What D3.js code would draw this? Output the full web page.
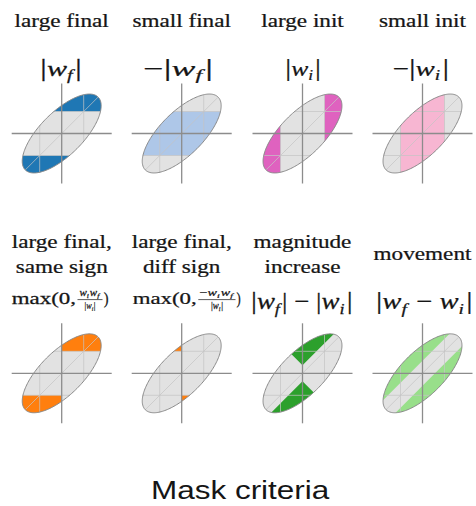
<!DOCTYPE html>
<html>
<head>
<meta charset="utf-8">
<script src="https://cdn.jsdelivr.net/npm/d3@7"></script>
<style>
  body { margin: 0; background: #fff; }
  text { fill: #151515; }
  .serif text { stroke: #151515; stroke-width: 0.25; }
</style>
</head>
<body>
<svg id="chart" width="476" height="506"></svg>
<script>
// ---- panel definitions -------------------------------------------------
const titles = [
  ["large final"], ["small final"], ["large init"], ["small init"],
  ["large final,", "same sign"], ["large final,", "diff sign"],
  ["magnitude", "increase"], ["movement"]
];
const criteria = ["largeFinal", "smallFinal", "largeInit", "smallInit",
                  "sameSign", "diffSign", "magIncrease", "movement"];
const fills = ["#1f77b4", "#aec7e8", "#df62bf", "#f7b6d2",
               "#ff7f0e", "#ff7f0e", "#2ca02c", "#98df8a"];
// score threshold used by each criterion (in weight units)
const thresholds = [0.44, 0.44, 0.44, 0.44, 0.44, 0.44, 0.16, 0.25];
// joint distribution of (w_i, w_f): semi-axes and tilt of the ellipse
const semiAxes = [1.03, 0.43];
const tiltDeg = 45;
// reference grid drawn inside every ellipse
const gridLevel = 0.44;

// formula segments: [text, style]  r = roman, i = italic, s = italic subscript
const formulas = [
  [["|", "r"], ["w", "i"], ["f", "s"], ["|", "r"]],
  [["−", "r"], ["|", "r"], ["w", "i"], ["f", "s"], ["|", "r"]],
  [["|", "r"], ["w", "i"], ["i", "s"], ["|", "r"]],
  [["−", "r"], ["|", "r"], ["w", "i"], ["i", "s"], ["|", "r"]],
  null, null,
  [["|", "r"], ["w", "i"], ["f", "s"], ["| − |", "r"], ["w", "i"], ["i", "s"], ["|", "r"]],
  [["|", "r"], ["w", "i"], ["f", "s"], [" − ", "r"], ["w", "i"], ["i", "s"], ["|", "r"]]
];
const fracNumerators = {
  sameSign: [["w", "i"], ["i", "s"], ["w", "i"], ["f", "s"]],
  diffSign: [["−", "r"], ["w", "i"], ["i", "s"], ["w", "i"], ["f", "s"]]
};
const fracDenominator = [["|", "r"], ["w", "i"], ["i", "s"], ["|", "r"]];

const superTitle = "Mask criteria";

// ---- layout -------------------------------------------------------------
const svg = d3.select("#chart");
const colX = [61.7, 181.7, 302.5, 422.5];
const rowY = [133.5, 373.3];
const half = 50;
const R = 2;
const serif = "'Liberation Serif', 'DejaVu Serif', serif";
const textLayer = svg.append("g").attr("class", "serif");

function regions(kind, t) {
  switch (kind) {
    case "largeFinal": return [[[-R, t], [R, t], [R, R], [-R, R]], [[-R, -t], [R, -t], [R, -R], [-R, -R]]];
    case "smallFinal": return [[[-R, -t], [R, -t], [R, t], [-R, t]]];
    case "largeInit":  return [[[t, -R], [R, -R], [R, R], [t, R]], [[-t, -R], [-R, -R], [-R, R], [-t, R]]];
    case "smallInit":  return [[[-t, -R], [t, -R], [t, R], [-t, R]]];
    case "sameSign":   return [[[0, t], [R, t], [R, R], [0, R]], [[0, -t], [-R, -t], [-R, -R], [0, -R]]];
    case "diffSign":   return [[[0, t], [-R, t], [-R, R], [0, R]], [[0, -t], [R, -t], [R, -R], [0, -R]]];
    case "magIncrease":return [[[-R, R + t], [0, t], [R, R + t]], [[-R, -R - t], [0, -t], [R, -R - t]]];
    case "movement":   return [[[-R, -R + t], [R, R + t], [-R, R + t]], [[-R, -R - t], [R, R - t], [R, -R - t]]];
  }
  return [];
}

// writes formula segments as tspans into a text element
function writeSegments(text, segs, size, barScale) {
  let shifted = false;
  segs.forEach(([str, style]) => {
    const ts = text.append("tspan").text(str);
    if (style === "i" || style === "s") ts.attr("font-style", "italic");
    if (style === "s") {
      ts.attr("font-size", size * 0.68);
      if (!shifted) { ts.attr("dy", size * 0.2); shifted = true; }
    } else {
      if (shifted) { ts.attr("dy", -size * 0.2).attr("dx", size * 0.08); shifted = false; }
      if (barScale && str === "|") ts.attr("font-size", size * barScale);
    }
  });
}

// places a piece of text so that it spans [left, right] on the given baseline
function fitText(parent, left, right, baseline, size, family, build) {
  const g = parent.append("g");
  const t = g.append("text").attr("x", 0).attr("y", 0)
    .attr("font-family", family).attr("font-size", size);
  build(t);
  const bb = t.node().getBBox();
  const s = (right - left) / bb.width;
  g.attr("transform", `translate(${left - bb.x * s},${baseline}) scale(${s},1)`);
  return g;
}

// stretched centred text
function wideText(parent, cx, baseline, size, family, str, stretch) {
  parent.append("g").attr("transform", `translate(${cx},${baseline}) scale(${stretch},1)`)
    .append("text").attr("text-anchor", "middle").attr("font-family", family)
    .attr("font-size", size).text(str);
}

const phi = tiltDeg * Math.PI / 180;
const outline = d3.range(0, 360, 2).map(deg => {
  const th = deg * Math.PI / 180;
  const u = semiAxes[0] * Math.cos(th), v = semiAxes[1] * Math.sin(th);
  return [u * Math.cos(phi) - v * Math.sin(phi), u * Math.sin(phi) + v * Math.cos(phi)];
});
const grid = [
  [[-gridLevel, -R], [-gridLevel, R]], [[gridLevel, -R], [gridLevel, R]],
  [[-R, -gridLevel], [R, -gridLevel]], [[-R, gridLevel], [R, gridLevel]],
  [[-R, -R], [R, R]]
];

criteria.forEach((kind, k) => {
  const col = k % 4, row = Math.floor(k / 4);
  const cx = colX[col], cy = rowY[row];
  const x = d3.scaleLinear().domain([-1, 1]).range([cx - half, cx + half]);
  const y = d3.scaleLinear().domain([-1, 1]).range([cy + half, cy - half]);
  const line = d3.line().x(d => x(d[0])).y(d => y(d[1]));
  const g = svg.append("g").attr("class", "panel");

  const clipId = "ellipse-clip-" + k;
  g.append("clipPath").attr("id", clipId).append("path").attr("d", line(outline) + "Z");

  g.append("path").attr("d", line(outline) + "Z").attr("fill", "#e2e2e2");
  const inside = g.append("g").attr("clip-path", `url(#${clipId})`);
  inside.selectAll("path.region").data(regions(kind, thresholds[k])).join("path")
    .attr("class", "region").attr("d", d => line(d) + "Z").attr("fill", fills[k]);
  inside.selectAll("path.grid").data(grid).join("path")
    .attr("class", "grid").attr("d", line)
    .attr("fill", "none").attr("stroke", "#c4c4c4").attr("stroke-width", 0.9).attr("opacity", 0.8);
  g.append("path").attr("d", line(outline) + "Z")
    .attr("fill", "none").attr("stroke", "#8a8a8a").attr("stroke-width", 1);

  // w_i / w_f axes
  g.append("path").attr("d", line([[-1, 0], [1, 0]]))
    .attr("stroke", "#8c8c8c").attr("stroke-width", 1.3);
  g.append("path").attr("d", line([[0, -1], [0, 1]]))
    .attr("stroke", "#8c8c8c").attr("stroke-width", 1.3);

  // titles
  const lines = titles[k];
  if (row === 0) {
    wideText(textLayer, cx, 26.7, 19, serif, lines[0], 1.22);
  } else if (lines.length === 2) {
    wideText(textLayer, cx, 247.5, 19, serif, lines[0], 1.22);
    wideText(textLayer, cx, 272.5, 19, serif, lines[1], 1.22);
  } else {
    wideText(textLayer, cx, 259.5, 19, serif, lines[0], 1.22);
  }
});

// formulas, top row
const topSpans = [[40, 82], [143.3, 213.3], [285.3, 321], [392.7, 449.3]];
topSpans.forEach((sp, c) => {
  fitText(textLayer, sp[0], sp[1], 75.5, 22, serif, t => writeSegments(t, formulas[c], 22, 1.15));
});
// formulas, bottom row (plain)
fitText(textLayer, 251, 352.7, 309, 23, serif, t => writeSegments(t, formulas[6], 23, 1.1));
fitText(textLayer, 376, 472.7, 309, 23, serif, t => writeSegments(t, formulas[7], 23, 1.1));

// formulas with a fraction
const fracLayouts = [
  { kind: "sameSign", max: [11.7, 76], num: [79.5, 100.5], bar: [77.5, 102.5], den: [84.5, 95.5], close: [103.8, 108.6] },
  { kind: "diffSign", max: [132.7, 196.7], num: [199.5, 234.5], bar: [198.3, 235.5], den: [211, 223], close: [236.4, 240.6] }
];
fracLayouts.forEach(L => {
  fitText(textLayer, L.max[0], L.max[1], 303.5, 16, serif, t => t.text("max(0,"));
  fitText(textLayer, L.num[0], L.num[1], 295.5, 10, serif, t => writeSegments(t, fracNumerators[L.kind], 10));
  svg.append("line").attr("x1", L.bar[0]).attr("x2", L.bar[1]).attr("y1", 299.6).attr("y2", 299.6)
    .attr("stroke", "#151515").attr("stroke-width", 0.7);
  fitText(textLayer, L.den[0], L.den[1], 309, 10, serif, t => writeSegments(t, fracDenominator, 10));
  fitText(textLayer, L.close[0], L.close[1], 303.5, 16, serif, t => t.text(")"));
});

// figure title
fitText(svg, 151, 330, 499, 26, "'Liberation Sans', Arial, sans-serif", t => t.text(superTitle));
</script>
</body>
</html>
